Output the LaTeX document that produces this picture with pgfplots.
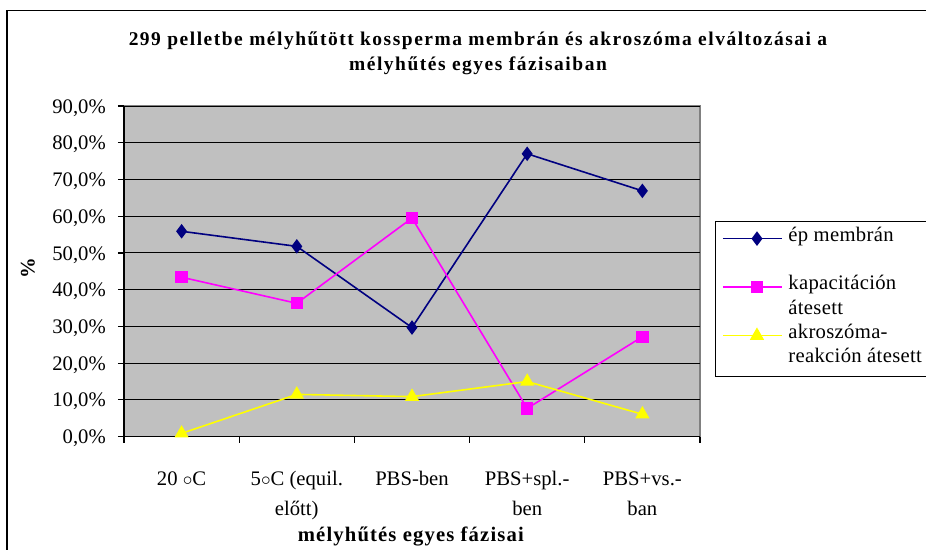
\documentclass[border=0pt]{standalone}
\usepackage{fontspec}
\setmainfont{Liberation Serif}
\usepackage{pgfplots}
\pgfplotsset{compat=1.18}
\definecolor{plotgray}{HTML}{C0C0C0}
\definecolor{bordergray}{HTML}{808080}
\definecolor{navyblue}{HTML}{000080}
\definecolor{magentac}{HTML}{FF00FF}
\definecolor{yellowc}{HTML}{FFFF00}

\begin{document}
\begin{tikzpicture}[x=1pt,y=1pt]
\useasboundingbox (-93,-85) rectangle (601.5,327.5);
\draw[black, line width=0.8pt] (-87.75,-95) -- (-87.75,319.3) -- (610,319.3);
\node[font=\fontsize{14.6}{17}\bfseries\addfontfeatures{LetterSpace=7.8}\selectfont, anchor=base] at (265.5,293.0) {299 pelletbe mélyhűtött kossperma membrán és akroszóma elváltozásai a};
\node[font=\fontsize{14.6}{17}\bfseries\addfontfeatures{LetterSpace=7.8}\selectfont, anchor=base] at (265.5,274.3) {mélyhűtés egyes fázisaiban};
\begin{axis}[
  at={(0,0)}, anchor=south west,
  scale only axis, width=432pt, height=248pt,
  xmin=0.5, xmax=5.5, ymin=0, ymax=90,
  clip=false,
  axis background/.style={fill=plotgray, draw=bordergray, line width=0.8pt},
  axis x line*=bottom, axis y line*=left,
  axis line style={black, line width=0.8pt},
  tick align=outside, major tick length=4.5pt,
  tick style={black, line width=0.8pt},
  xtick={0.5,1.5,2.5,3.5,4.5,5.5},
  xticklabels={{20 $\circ$C\\\mbox{}},{5$\circ$C (equil.\\előtt)},{PBS-ben\\\mbox{}},{PBS+spl.-\\ben},{PBS+vs.-\\ban},{}},
  xticklabel style={align=center, anchor=base, xshift=43.2pt, yshift=-54.5pt,
     font=\fontsize{15.5}{22.3}\selectfont},
  ytick={0,10,...,90},
  yticklabels={{0,0\%},{10,0\%},{20,0\%},{30,0\%},{40,0\%},{50,0\%},{60,0\%},{70,0\%},{80,0\%},{90,0\%}},
  yticklabel style={anchor=base east, inner sep=0pt, xshift=-9pt, yshift=-5.3pt,
     font=\fontsize{15.5}{18}\selectfont},
  ymajorgrids, major grid style={black, line width=0.75pt},
  ylabel={\%},
  ylabel style={at={(rel axis cs:-0.1667,0.51)}, anchor=center, font=\fontsize{15.5}{18}\bfseries\selectfont},
  xlabel={mélyhűtés egyes fázisai},
  xlabel style={at={(rel axis cs:0.498,-0.3175)}, anchor=base, font=\fontsize{15.5}{18}\bfseries\addfontfeatures{LetterSpace=5.5}\selectfont},
  legend cell align=left,
  legend image code/.code={\path (-7pt,0pt) -- (37pt,0pt);
    \draw[mark repeat=2,mark phase=2,#1] plot coordinates {(0pt,0pt) (18.5pt,0pt) (37pt,0pt)};},
  legend style={at={(rel axis cs:1.026,0.652)}, anchor=north west, draw=black, fill=white,
     line width=0.8pt,
     font=\fontsize{15.5}{18}\addfontfeatures{LetterSpace=1.5}\selectfont, inner xsep=5pt, inner ysep=3.65pt,
     column sep=4.5pt, row sep=0pt,
     nodes={inner sep=0pt, text height=11.15pt, text depth=7.05pt}},
]
\addplot[navyblue, line width=1.2pt, mark=diamond*, mark size=4.5pt, mark options={fill=navyblue}]
  coordinates {(1,55.9) (2,51.8) (3,29.7) (4,77.0) (5,66.9)};
\addlegendentry{ép membrán}
\addlegendimage{empty legend}
\addlegendentry{~}
\addplot[magentac, line width=1.2pt, mark=square*, mark size=4pt, mark options={fill=magentac}]
  coordinates {(1,43.4) (2,36.3) (3,59.5) (4,7.7) (5,27.2)};
\addlegendentry{kapacitáción}
\addlegendimage{empty legend}
\addlegendentry{átesett}
\addplot[yellowc, line width=1.2pt, mark=triangle*, mark size=5pt, mark options={fill=yellowc}]
  coordinates {(1,0.9) (2,11.5) (3,10.9) (4,15.0) (5,6.1)};
\addlegendentry{akroszóma-}
\addlegendimage{empty legend}
\addlegendentry{reakción átesett}
\end{axis}
\end{tikzpicture}
\end{document}
